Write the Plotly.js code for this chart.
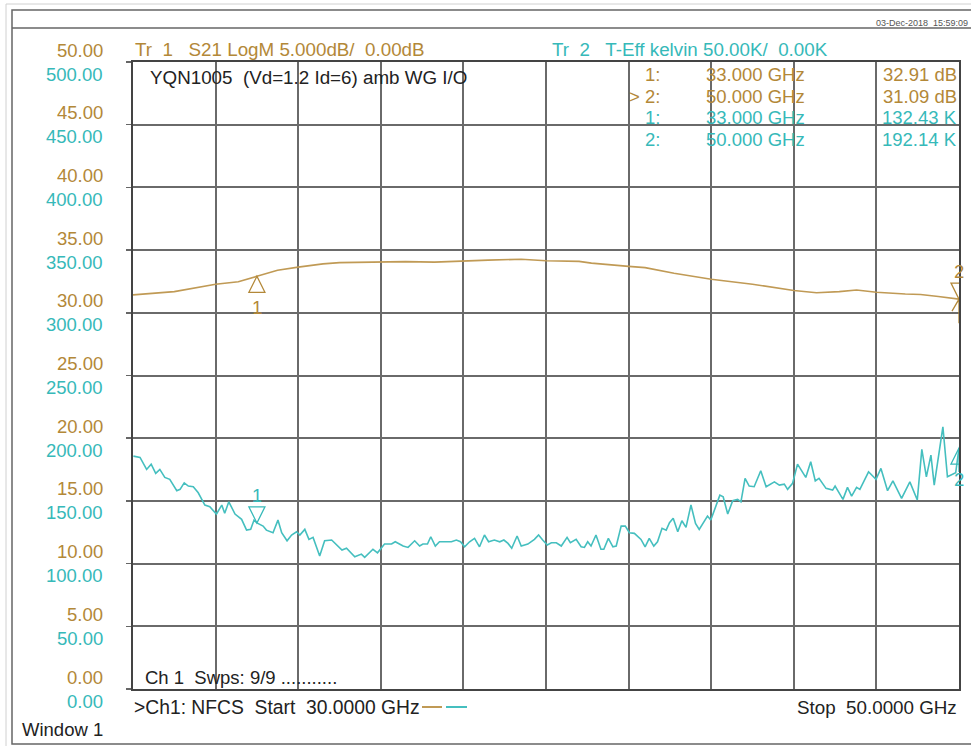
<!DOCTYPE html>
<html>
<head>
<meta charset="utf-8">
<script src="https://cdn.plot.ly/plotly-3.0.1.min.js"></script>
<style>
html,body{margin:0;padding:0;background:#fff;}
#chart{width:971px;height:746px;}
</style>
</head>
<body>
<div id="chart"></div>
<script>
// ---- Data ----
// Trace 1: S21 LogM (dB), left scale 0..50 dB
const s21Freq = [30.00, 31.00, 32.00, 32.55, 33.00, 33.50, 34.00, 34.60, 35.00, 36.00, 36.60, 37.30, 38.00, 38.60, 39.40, 40.00, 40.80, 41.10, 42.00, 42.40, 43.10, 44.00, 45.00, 46.00, 46.55, 47.10, 47.52, 48.00, 48.70, 49.07, 49.50, 50.00];
const s21Db   = [31.43, 31.69, 32.28, 32.47, 32.91, 33.40, 33.64, 33.90, 34.00, 34.04, 34.08, 34.04, 34.14, 34.20, 34.27, 34.15, 34.10, 33.96, 33.70, 33.60, 33.16, 32.68, 32.28, 31.78, 31.60, 31.69, 31.82, 31.64, 31.50, 31.46, 31.30, 31.09];

// Trace 2: T-Eff kelvin (K), scale 0..500 K
const tFreq = [30.01,30.17,30.33,30.44,30.55,30.65,30.77,30.89,31.06,31.14,31.24,31.34,31.46,31.58,31.74,31.86,32.02,32.15,32.22,32.32,32.47,32.63,32.75,32.85,32.93,33.00,33.15,33.23,33.39,33.51,33.60,33.73,33.84,33.96,34.04,34.16,34.26,34.36,34.52,34.64,34.81,34.93,35.06,35.17,35.37,35.53,35.61,35.81,35.92,36.09,36.26,36.35,36.54,36.66,36.82,36.94,37.02,37.13,37.21,37.32,37.42,37.59,37.71,37.83,37.93,38.03,38.15,38.27,38.39,38.51,38.61,38.75,38.88,38.98,39.08,39.17,39.30,39.40,39.56,39.72,39.82,39.92,40.03,40.13,40.25,40.37,40.51,40.59,40.73,40.85,40.93,41.01,41.09,41.21,41.33,41.40,41.51,41.62,41.70,41.82,41.92,42.02,42.14,42.30,42.40,42.50,42.61,42.70,42.81,42.91,42.99,43.08,43.19,43.29,43.39,43.51,43.62,43.71,43.91,43.99,44.21,44.29,44.40,44.52,44.64,44.72,44.82,44.92,45.04,45.20,45.33,45.53,45.65,45.77,45.85,45.97,46.09,46.29,46.41,46.52,46.61,46.78,46.94,47.00,47.19,47.30,47.40,47.52,47.60,47.81,47.99,48.11,48.27,48.40,48.61,48.81,48.99,49.10,49.21,49.32,49.40,49.61,49.72,49.92,50.00];
const tK = [185.7,184.7,175.1,179.3,171.9,175.1,168.7,167.2,158.1,159.2,164.4,161.8,161.3,156.5,146.7,145.3,139.5,146.7,140.1,149.3,139.5,135.3,126.7,127.3,134.7,132.43,129.9,126.7,124.6,134.7,124.6,118.2,122.8,125.4,122.8,127.3,119.3,120.9,106.0,118.2,118.8,114.8,110.8,112.2,105.5,107.6,105.0,111.4,108.6,115.6,115.6,117.4,114.0,112.9,118.2,114.0,115.6,115.6,121.4,114.0,117.4,117.4,117.4,118.8,117.4,113.4,117.4,120.1,113.4,122.8,117.4,118.8,117.4,118.8,116.1,112.2,122.0,114.0,115.6,119.3,122.8,118.8,114.8,116.6,116.6,114.0,120.9,116.6,119.3,113.4,112.9,117.4,114.0,122.8,111.4,111.4,120.1,113.4,114.0,129.9,129.9,124.6,124.1,119.3,113.4,120.1,114.0,117.4,128.1,126.7,132.6,136.1,125.4,134.2,128.9,146.7,132.1,127.3,137.9,134.7,154.6,153.3,139.5,150.1,151.2,149.3,168.0,161.8,161.3,174.0,161.3,165.2,162.6,163.4,159.2,164.0,179.3,168.7,181.2,166.0,168.0,160.0,158.6,161.8,151.2,160.8,153.8,160.8,159.2,173.2,167.2,175.9,158.1,166.0,152.0,165.2,150.7,191.1,169.2,186.5,162.6,209.1,169.2,172.4,192.14];

// Markers
const markerFreq = [33.000, 50.000];
const markerDb   = [32.91, 31.09];
const markerK    = [132.43, 192.14];

// Axis tick labels
const dbTicks = [0,5,10,15,20,25,30,35,40,45,50];
const kTicks  = [0,50,100,150,200,250,300,350,400,450,500];

// ---- Styling ----
const TAN_TXT = '#B38838';
const TAN_LINE = '#C09A55';
const TEAL_TXT = '#36B9B9';
const TEAL_LINE = '#45BFBF';
const BLACK = '#222';
const FONT = 'Liberation Sans, Arial, sans-serif';
const FS = 18.5;

// plot area in pixels: x 133..959, y 62..689
const L = 133, R = 959, T = 62, B = 689;
const W = R - L, H = B - T;
const pxX = p => (p - L) / W;
const pxY = p => (B - p) / H;

const annotations = [];
function txt(text, x, y, color, anchor, size) {
  annotations.push({
    text: text, xref: 'paper', yref: 'paper', x: pxX(x), y: pxY(y),
    xanchor: anchor || 'left', yanchor: 'middle', showarrow: false,
    font: {family: FONT, size: size || FS, color: color}, borderpad: 0
  });
}

// Tick labels (two scales)
dbTicks.forEach(v => annotations.push({
  text: v.toFixed(2), xref: 'paper', yref: 'y', x: pxX(104), y: v,
  xanchor: 'right', yanchor: 'middle', yshift: 12, showarrow: false, borderpad: 0,
  font: {family: FONT, size: FS, color: TAN_TXT}
}));
kTicks.forEach(v => annotations.push({
  text: v.toFixed(2), xref: 'paper', yref: 'y2', x: pxX(104), y: v,
  xanchor: 'right', yanchor: 'middle', yshift: -12, showarrow: false, borderpad: 0,
  font: {family: FONT, size: FS, color: TEAL_TXT}
}));

// Header texts
txt('Tr  1   S21 LogM 5.000dB/  0.00dB', 134, 49, TAN_TXT, 'left', 18.8);
txt('Tr  2   T-Eff kelvin 50.00K/  0.00K', 551, 49, TEAL_TXT, 'left', 18.8);
txt('YQN1005  (Vd=1.2 Id=6) amb WG I/O', 149, 77, BLACK, 'left', 18.8);
txt('03-Dec-2018  15:59:09', 969, 23, '#555', 'right', 9);

// Marker readouts
const rowsY = [74, 96, 117, 139];
const rows = [
  {lab: '1:', f: markerFreq[0], v: markerDb[0].toFixed(2) + ' dB', c: TAN_TXT},
  {lab: '> 2:', f: markerFreq[1], v: markerDb[1].toFixed(2) + ' dB', c: TAN_TXT},
  {lab: '1:', f: markerFreq[0], v: markerK[0].toFixed(2) + ' K', c: TEAL_TXT},
  {lab: '2:', f: markerFreq[1], v: markerK[1].toFixed(2) + ' K', c: TEAL_TXT}
];
rows.forEach((r, i) => {
  txt(r.lab, 661, rowsY[i], r.c, 'right');
  txt(r.f.toFixed(3) + ' GHz', 705, rowsY[i], r.c, 'left');
  txt(r.v, 958, rowsY[i], r.c, 'right');
});

// Bottom texts
txt('Ch 1  Swps: 9/9 ...........', 144, 677, BLACK);
txt('>Ch1: NFCS  Start  30.0000 GHz', 133, 707, BLACK, 'left', 19.3);
txt('Stop  50.0000 GHz', 958, 707, BLACK, 'right', 18.8);
txt('Window 1', 21, 729, BLACK);

// Marker number labels
annotations.push({text: '1', xref: 'x', yref: 'y', x: markerFreq[0], y: markerDb[0], yshift: -31, showarrow: false,
  font: {family: FONT, size: FS, color: TAN_TXT}});
annotations.push({text: '2', xref: 'x', yref: 'y', x: markerFreq[1], y: markerDb[1], yshift: 28, showarrow: false,
  font: {family: FONT, size: FS, color: TAN_TXT}});
annotations.push({text: '1', xref: 'x', yref: 'y2', x: markerFreq[0], y: markerK[0], yshift: 27, showarrow: false,
  font: {family: FONT, size: FS, color: TEAL_TXT}});
annotations.push({text: '2', xref: 'x', yref: 'y2', x: markerFreq[1], y: markerK[1], yshift: -31, showarrow: false,
  font: {family: FONT, size: FS, color: TEAL_TXT}});

const shapes = [];
function pixShape(xv, yv, yref, path, color) {
  shapes.push({type: 'path', xref: 'x', yref: yref, xsizemode: 'pixel', ysizemode: 'pixel',
    xanchor: xv, yanchor: yv, path: path, line: {color: color, width: 1.3}, layer: 'above'});
}
// Markers on traces
pixShape(markerFreq[0], markerDb[0], 'y', 'M0,0 L-8,-16 L8,-16 Z', TAN_TXT);
pixShape(markerFreq[1], markerDb[1], 'y', 'M0,0 L-8,16 L8,16 Z M0,0 L-7,-12 M0,0 L7,-12 M0,0 L0,-24', TAN_TXT);
pixShape(markerFreq[0], markerK[0], 'y2', 'M0,0 L-8,16 L8,16 Z', TEAL_TXT);
pixShape(markerFreq[1], markerK[1], 'y2', 'M0,0 L-8,-16 L8,-16 Z M0,0 L0,-24', TEAL_TXT);

// Reference-level arrows on the bottom edge
shapes.push({type: 'path', xref: 'x', yref: 'y', xsizemode: 'pixel', ysizemode: 'pixel',
  xanchor: 30, yanchor: 0, path: 'M0,0 L-8,6 L-8,-6 Z', fillcolor: TAN_TXT, line: {color: TAN_TXT, width: 1}});
shapes.push({type: 'path', xref: 'x', yref: 'y', xsizemode: 'pixel', ysizemode: 'pixel',
  xanchor: 50, yanchor: 0, path: 'M0,0 L8,6 L8,-6 Z', fillcolor: TAN_TXT, line: {color: TAN_TXT, width: 1}});

// Legend dashes after the start text
shapes.push({type: 'line', xref: 'paper', yref: 'paper', x0: pxX(422), x1: pxX(442), y0: pxY(707), y1: pxY(707),
  line: {color: TAN_LINE, width: 2}});
shapes.push({type: 'line', xref: 'paper', yref: 'paper', x0: pxX(446), x1: pxX(467), y0: pxY(707), y1: pxY(707),
  line: {color: TEAL_LINE, width: 2}});

// Window frame
shapes.push({type: 'rect', xref: 'paper', yref: 'paper', x0: pxX(6), x1: pxX(990), y0: pxY(4), y1: pxY(752),
  line: {color: '#d0d0d0', width: 1}, layer: 'below'});
shapes.push({type: 'rect', xref: 'paper', yref: 'paper', x0: pxX(12), x1: pxX(990), y0: pxY(10), y1: pxY(744),
  line: {color: '#666', width: 1.5}, layer: 'below'});
shapes.push({type: 'line', xref: 'paper', yref: 'paper', x0: pxX(12), x1: pxX(990), y0: pxY(28), y1: pxY(28),
  line: {color: '#666', width: 1.5}, layer: 'below'});

const traces = [
  {x: s21Freq, y: s21Db, type: 'scatter', mode: 'lines', yaxis: 'y',
   line: {color: TAN_LINE, width: 1.6}, hoverinfo: 'skip'},
  {x: tFreq, y: tK, type: 'scatter', mode: 'lines', yaxis: 'y2',
   line: {color: TEAL_LINE, width: 1.6}, hoverinfo: 'skip'}
];

const layout = {
  width: 971, height: 746,
  margin: {l: L, r: 971 - R, t: T, b: 746 - B, pad: 0},
  paper_bgcolor: '#fff', plot_bgcolor: '#fff',
  showlegend: false,
  xaxis: {range: [30, 50], tick0: 30, dtick: 2, showgrid: true, gridcolor: '#6a6a6a', gridwidth: 2,
    zeroline: false, showline: true, linecolor: '#444', linewidth: 2, mirror: true,
    showticklabels: false, ticks: '', fixedrange: true},
  yaxis: {range: [0, 50], tick0: 0, dtick: 5, showgrid: true, gridcolor: '#6a6a6a', gridwidth: 2,
    zeroline: false, showline: true, linecolor: '#444', linewidth: 2, mirror: true,
    showticklabels: false, ticks: 'outside', ticklen: 5, tickcolor: '#666', tickwidth: 1.5, fixedrange: true},
  yaxis2: {range: [0, 500], overlaying: 'y', side: 'left', showgrid: false, zeroline: false,
    showline: false, showticklabels: false, ticks: '', fixedrange: true},
  annotations: annotations,
  shapes: shapes
};

Plotly.newPlot('chart', traces, layout, {displayModeBar: false, staticPlot: true});
</script>
</body>
</html>
